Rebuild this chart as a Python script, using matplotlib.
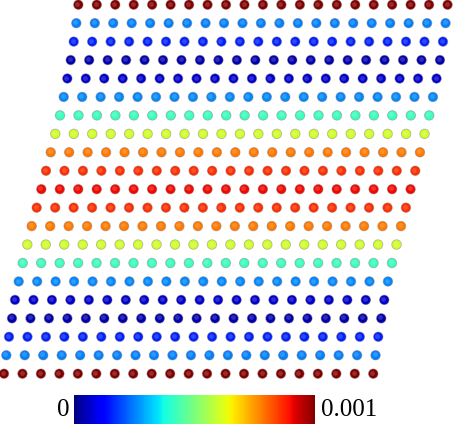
import numpy as np
import matplotlib
matplotlib.use('Agg')
from matplotlib import pyplot as plt
from matplotlib import colors

# layers listed from bottom to top, 21 atoms per layer
n_atoms = 21
# shear displacement of each layer (in lattice spacings)
layer_shift = [0.0, 0.125, 0.271, 0.433, 0.596, 0.796, 1.013, 1.262, 1.501, 1.771, 2.021,
               2.275, 2.530, 2.779, 3.034, 3.234, 3.429, 3.613, 3.776, 3.917, 4.025]
# value shown by colour for each layer
layer_value = [1.0e-3, 0.25e-3, 0.16e-3, 0.04e-3, 0.07e-3, 0.26e-3, 0.42e-3, 0.60e-3, 0.78e-3, 0.86e-3, 0.90e-3,
               0.86e-3, 0.78e-3, 0.60e-3, 0.42e-3, 0.26e-3, 0.07e-3, 0.04e-3, 0.16e-3, 0.25e-3, 1.0e-3]
vmin, vmax = 0.0, 0.001
cbar_labels = ['0', '0.001']

xs, ys, cs = [], [], []
for layer, (dx, val) in enumerate(zip(layer_shift, layer_value)):
    for i in range(n_atoms):
        xs.append(i + dx)
        ys.append(layer)
        cs.append(val)
xs, ys, cs = np.array(xs), np.array(ys), np.array(cs)

fig = plt.figure(figsize=(4.53, 4.26), dpi=100)
ax = fig.add_axes([0, 0, 1, 1])
norm = colors.Normalize(vmin=vmin, vmax=vmax)
cmap = plt.get_cmap('jet')

sc = ax.scatter(xs, ys, c=cs, cmap=cmap, norm=norm, s=47,
                edgecolors=(0.55, 0.45, 0.45, 0.5), linewidths=0.6, zorder=2)
# small highlight to give the atoms a ball look
ax.scatter(xs - 0.05, ys + 0.05, s=12, color='white', alpha=0.18, linewidths=0, zorder=3)

ax.set_xlim(-0.217, 24.32)
ax.set_ylim(-2.835, 20.255)
ax.axis('off')

cax = fig.add_axes([73.7 / 453, 1.7 / 426, 241.6 / 453, 29.6 / 426])
cb = fig.colorbar(sc, cax=cax, orientation='horizontal')
cb.set_ticks([])
cb.outline.set_visible(False)

fig.text(69 / 453, 1 - 410.5 / 426, cbar_labels[0], ha='right', va='center',
         fontsize=18, family='Liberation Serif')
fig.text(321 / 453, 1 - 410.5 / 426, cbar_labels[1], ha='left', va='center',
         fontsize=18, family='Liberation Serif')

fig.savefig('out.png', dpi=100)
